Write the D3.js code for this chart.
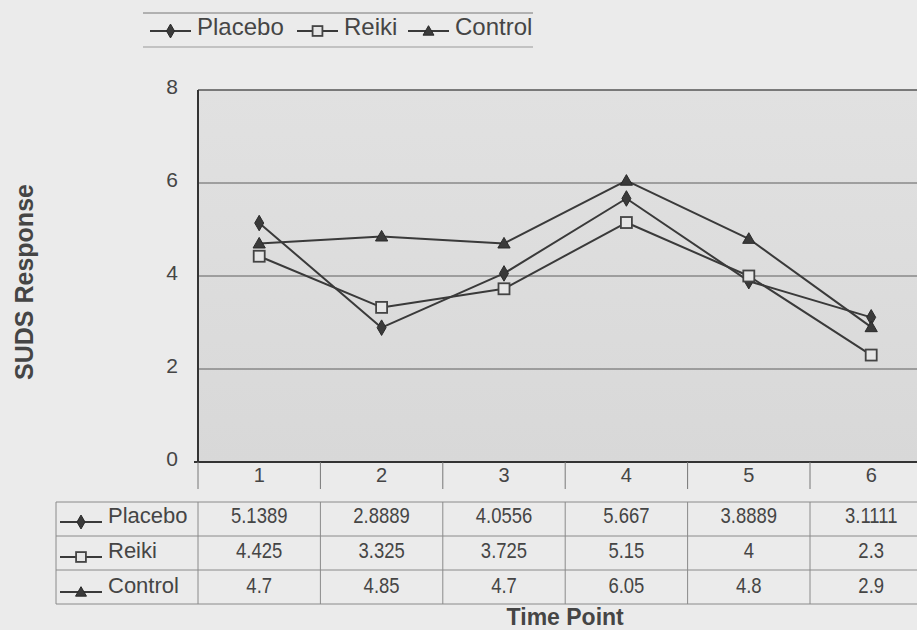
<!DOCTYPE html>
<html>
<head>
<meta charset="utf-8">
<script src="https://cdn.jsdelivr.net/npm/d3@7"></script>
<style>
  html, body { margin: 0; padding: 0; background: #ebebeb; }
  svg { display: block; font-family: Arial, "Liberation Sans", sans-serif; }
</style>
</head>
<body>
<svg id="chart" width="917" height="630"></svg>
<script>
// SUDS response per time point for each group
const timePoints = ["1", "2", "3", "4", "5", "6"];
const seriesNames = ["Placebo", "Reiki", "Control"];
const placebo = [5.1389, 2.8889, 4.0556, 5.667, 3.8889, 3.1111];
const reiki = [4.425, 3.325, 3.725, 5.15, 4, 2.3];
const control = [4.7, 4.85, 4.7, 6.05, 4.8, 2.9];
const placeboLabels = ["5.1389", "2.8889", "4.0556", "5.667", "3.8889", "3.1111"];
const reikiLabels = ["4.425", "3.325", "3.725", "5.15", "4", "2.3"];
const controlLabels = ["4.7", "4.85", "4.7", "6.05", "4.8", "2.9"];
const yTicks = [0, 2, 4, 6, 8];

const series = [
  { name: seriesNames[0], values: placebo, labels: placeboLabels, symbol: "diamond" },
  { name: seriesNames[1], values: reiki, labels: reikiLabels, symbol: "square" },
  { name: seriesNames[2], values: control, labels: controlLabels, symbol: "triangle" }
];

const svg = d3.select("#chart");
const plotLeft = 198, plotTop = 90, plotBottom = 462, bandW = 122.4;
const plotRight = plotLeft + bandW * timePoints.length;
const ink = "#3a3a3a";
const textColor = "#454545";

const x = d3.scaleBand().domain(timePoints).range([plotLeft, plotRight]).paddingInner(0).paddingOuter(0);
const y = d3.scaleLinear().domain([0, 8]).range([plotBottom, plotTop]);
const cx = d => x(d) + x.bandwidth() / 2;

// plot area
const defs = svg.append("defs");
const grad = defs.append("linearGradient").attr("id", "plotBg").attr("x1", 0).attr("y1", 0).attr("x2", 0).attr("y2", 1);
grad.append("stop").attr("offset", "0%").attr("stop-color", "#e1e1e1");
grad.append("stop").attr("offset", "100%").attr("stop-color", "#d8d8d8");
svg.append("rect").attr("x", plotLeft).attr("y", plotTop).attr("width", plotRight - plotLeft).attr("height", plotBottom - plotTop)
  .attr("fill", "url(#plotBg)");

// gridlines
svg.append("g").selectAll("line").data(yTicks.filter(t => t > 0 && t < 8)).join("line")
  .attr("x1", plotLeft).attr("x2", plotRight).attr("y1", d => y(d)).attr("y2", d => y(d))
  .attr("stroke", "#5e5e5e").attr("stroke-width", 1);

// frame
svg.append("line").attr("x1", plotLeft).attr("x2", plotRight).attr("y1", plotTop).attr("y2", plotTop).attr("stroke", "#555").attr("stroke-width", 1.5);
svg.append("line").attr("x1", plotLeft).attr("x2", plotLeft).attr("y1", plotTop).attr("y2", plotBottom).attr("stroke", "#333").attr("stroke-width", 2);
svg.append("line").attr("x1", plotLeft - 4).attr("x2", plotRight).attr("y1", plotBottom).attr("y2", plotBottom).attr("stroke", "#333").attr("stroke-width", 2);

// y axis
const yAxis = d3.axisLeft(y).tickValues(yTicks).tickSize(0).tickPadding(20);
const yg = svg.append("g").attr("transform", `translate(${plotLeft},0)`).call(yAxis);
yg.select(".domain").remove();
yg.selectAll("text").attr("font-size", 21).attr("fill", textColor).attr("dy", "0.18em")
  .attr("font-family", "Arial, 'Liberation Sans', sans-serif");

// category axis row
const xAxis = d3.axisBottom(x).tickSize(0).tickPadding(6);
const xg = svg.append("g").attr("transform", `translate(0,${plotBottom})`).call(xAxis);
xg.select(".domain").remove();
xg.selectAll("text").attr("font-size", 20).attr("fill", textColor).attr("dy", "0.71em")
  .attr("font-family", "Arial, 'Liberation Sans', sans-serif");
svg.append("g").selectAll("line").data(timePoints.concat(["end"])).join("line")
  .attr("x1", (d, i) => plotLeft + i * bandW).attr("x2", (d, i) => plotLeft + i * bandW)
  .attr("y1", plotBottom).attr("y2", plotBottom + 27)
  .attr("stroke", "#777").attr("stroke-width", 1);

// marker shapes
function marker(g, kind, px, py, s) {
  if (kind === "diamond") {
    g.append("path").attr("d", d3.symbol(d3.symbolDiamond, 70 * s)()).attr("transform", `translate(${px},${py})`)
      .attr("fill", "#3a3a3a").attr("stroke", "#2a2a2a").attr("stroke-width", 1);
  } else if (kind === "square") {
    const h = 5.5 * Math.sqrt(s);
    g.append("rect").attr("x", px - h).attr("y", py - h).attr("width", 2 * h).attr("height", 2 * h)
      .attr("fill", "#e6e6e6").attr("stroke", "#444").attr("stroke-width", 1.8);
  } else {
    g.append("path").attr("d", d3.symbol(d3.symbolTriangle, 65 * s)()).attr("transform", `translate(${px},${py + 1})`)
      .attr("fill", "#3a3a3a").attr("stroke", "#2a2a2a").attr("stroke-width", 1);
  }
}

// series lines
const line = d3.line().x((d, i) => cx(timePoints[i])).y(d => y(d));
const lines = svg.append("g");
series.forEach(s => {
  lines.append("path").datum(s.values).attr("d", line)
    .attr("fill", "none").attr("stroke", ink).attr("stroke-width", 2).attr("stroke-linejoin", "round");
});
const marks = svg.append("g");
series.forEach(s => s.values.forEach((v, i) => marker(marks, s.symbol, cx(timePoints[i]), y(v), 1)));

// data table
const tableTop = 502, rowH = 34, tableLeft = 56;
const tbl = svg.append("g");
const grid = "#8a8a8a";
for (let r = 0; r <= series.length; r++) {
  tbl.append("line").attr("x1", tableLeft).attr("x2", plotRight).attr("y1", tableTop + r * rowH).attr("y2", tableTop + r * rowH)
    .attr("stroke", grid).attr("stroke-width", 1);
}
tbl.append("line").attr("x1", tableLeft).attr("x2", tableLeft).attr("y1", tableTop).attr("y2", tableTop + 3 * rowH).attr("stroke", grid);
for (let c = 0; c <= timePoints.length; c++) {
  tbl.append("line").attr("x1", plotLeft + c * bandW).attr("x2", plotLeft + c * bandW)
    .attr("y1", tableTop).attr("y2", tableTop + 3 * rowH).attr("stroke", grid);
}
series.forEach((s, r) => {
  const ry = tableTop + r * rowH + rowH / 2;
  const base = ry + 4 + r;
  tbl.append("line").attr("x1", 60).attr("x2", 102).attr("y1", base - 1).attr("y2", base - 1).attr("stroke", ink).attr("stroke-width", 2);
  marker(tbl, s.symbol, 81, base - 1, 0.8);
  tbl.append("text").attr("x", 108).attr("y", base).attr("font-size", 22).attr("fill", textColor).text(s.name);
  tbl.selectAll(null).data(s.labels).join("text")
    .attr("transform", (d, i) => `translate(${cx(timePoints[i])},${base}) scale(0.86,1)`)
    .attr("text-anchor", "middle").attr("font-size", 21.5).attr("fill", textColor).text(d => d);
});

// axis titles
svg.append("text").attr("x", (plotLeft + plotRight) / 2).attr("y", 625).attr("text-anchor", "middle")
  .attr("font-size", 23).attr("font-weight", "bold").attr("fill", textColor).text("Time Point");
svg.append("text").attr("transform", "translate(33,282) rotate(-90)").attr("text-anchor", "middle")
  .attr("font-size", 25).attr("font-weight", "bold").attr("fill", textColor).text("SUDS Response");

// legend
const lg = svg.append("g");
lg.append("line").attr("x1", 143).attr("x2", 533).attr("y1", 13).attr("y2", 13).attr("stroke", "#777");
lg.append("line").attr("x1", 143).attr("x2", 533).attr("y1", 47).attr("y2", 47).attr("stroke", "#999");
const legendPos = [{ sx: 150, tx: 197 }, { sx: 297, tx: 344 }, { sx: 408, tx: 455 }];
series.forEach((s, i) => {
  const p = legendPos[i];
  lg.append("line").attr("x1", p.sx).attr("x2", p.sx + 41).attr("y1", 31).attr("y2", 31).attr("stroke", ink).attr("stroke-width", 2);
  marker(lg, s.symbol, p.sx + 20.5, 31, 0.8);
  lg.append("text").attr("x", p.tx).attr("y", 35).attr("font-size", 24).attr("fill", textColor).text(s.name);
});
</script>
</body>
</html>
